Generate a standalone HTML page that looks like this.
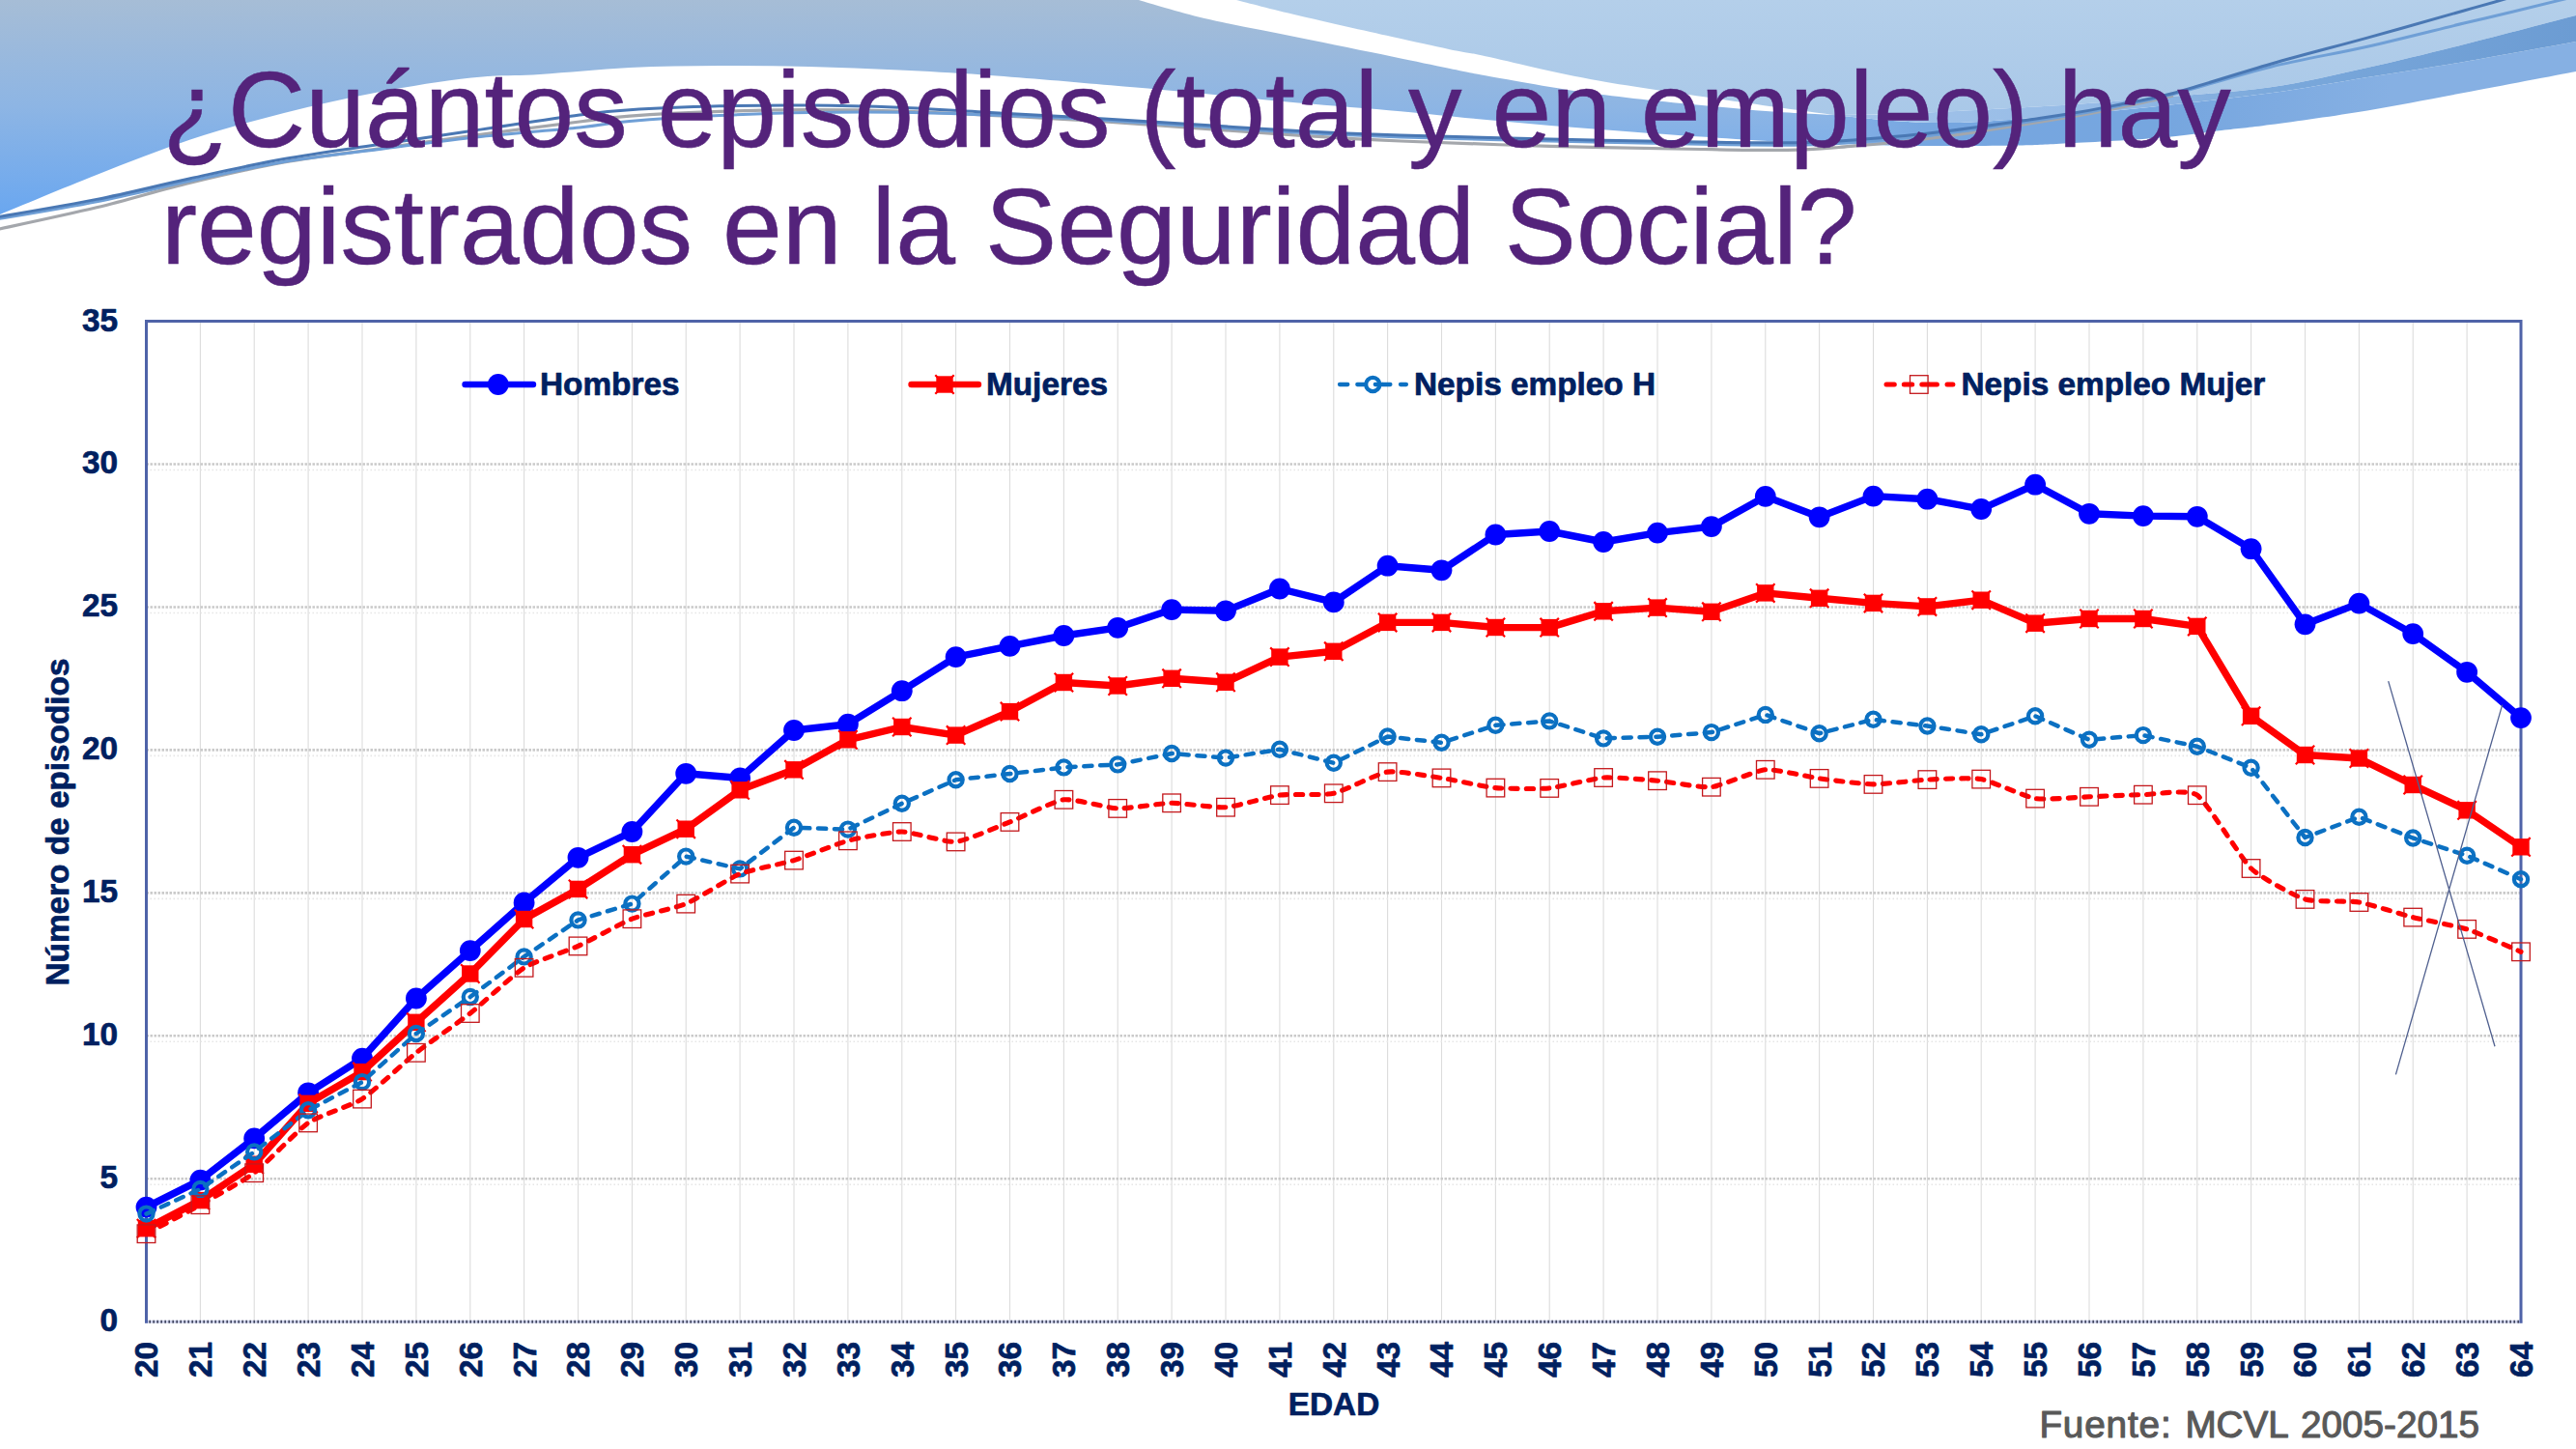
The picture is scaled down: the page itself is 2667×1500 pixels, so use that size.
<!DOCTYPE html>
<html lang="es"><head><meta charset="utf-8"><title>¿Cuántos episodios hay registrados en la Seguridad Social?</title>
<style>
html,body{margin:0;padding:0;background:#fff;}
body{width:2667px;height:1500px;overflow:hidden;position:relative;font-family:"Liberation Sans",sans-serif;}
svg{position:absolute;left:0;top:0;display:block;}
text{font-family:"Liberation Sans",sans-serif;}
.b{font-weight:bold;fill:#002060;font-size:33.35px;stroke:#002060;stroke-width:0.7px;stroke-linejoin:round;}
</style></head><body>
<svg width="2667" height="1500" viewBox="0 0 2667 1500">
<defs>
<linearGradient id="g1" x1="0" y1="0" x2="0" y2="1"><stop offset="0" stop-color="#a6bdd6"/><stop offset="0.5" stop-color="#8db5e4"/><stop offset="1" stop-color="#6aa7f0"/></linearGradient>
<linearGradient id="g2" x1="0" y1="0" x2="0" y2="1"><stop offset="0" stop-color="#b4cfea"/><stop offset="1" stop-color="#a9c8e8"/></linearGradient>
<g id="mh"><circle r="10.9" fill="#0000ff"/></g>
<g id="mm"><rect x="-8.7" y="-8.7" width="17.4" height="17.4" fill="#ff0000"/><path d="M-9.7,-9.7L9.7,9.7M-9.7,9.7L9.7,-9.7" stroke="#ff0000" stroke-width="2.2" /></g>
<g id="mnh"><circle r="7.1" fill="none" stroke="#0b70c2" stroke-width="4.2"/></g>
<g id="mnm"><rect x="-9.3" y="-9.3" width="18.6" height="18.6" fill="none" stroke="#c4181c" stroke-width="1.3"/></g>
</defs>
<g id="header">
<defs>
<linearGradient id="gB" gradientUnits="userSpaceOnUse" x1="1898" y1="0" x2="2667" y2="0"><stop offset="0" stop-color="#a3c4ea"/><stop offset="0.35" stop-color="#96bbe6"/><stop offset="0.6" stop-color="#7aa8db"/><stop offset="1" stop-color="#6c9cd3"/></linearGradient>
<linearGradient id="gA" gradientUnits="userSpaceOnUse" x1="1898" y1="0" x2="2667" y2="0"><stop offset="0" stop-color="#85b1e7"/><stop offset="0.12" stop-color="#76a6e0"/><stop offset="0.45" stop-color="#76a6df"/><stop offset="0.75" stop-color="#86b0e3"/><stop offset="1" stop-color="#86b0e3"/></linearGradient>
</defs>
<path d="M1280.0,0.0 C1290.7,2.7 1317.2,9.7 1344.0,16.0 C1370.8,22.3 1415.0,32.2 1441.0,38.0 C1467.0,43.8 1483.8,47.5 1500.0,50.9 C1516.2,54.3 1512.2,52.8 1538.0,58.2 C1563.8,63.6 1609.7,75.4 1655.0,83.5 C1700.3,91.6 1769.5,100.9 1810.0,106.8 C1850.5,112.7 1883.3,117.0 1898.0,119.0 L1950.0,118.5 C1959.2,118.1 1973.2,117.7 2005.0,116.0 C2036.8,114.3 2102.2,111.0 2141.0,108.4 C2179.8,105.9 2203.0,103.7 2238.0,100.7 C2273.0,97.7 2315.5,95.4 2351.0,90.3 C2386.5,85.2 2417.7,77.4 2451.0,70.0 C2484.3,62.6 2515.0,55.0 2551.0,46.0 C2587.0,37.0 2647.7,21.0 2667.0,16.0 L2667,0 Z" fill="url(#g2)"/>
<path d="M1898.0,119.0 C1908.3,120.0 1942.2,123.7 1960.0,125.0 C1977.8,126.3 1990.0,126.8 2005.0,127.0 C2020.0,127.2 2027.3,127.3 2050.0,126.0 C2072.7,124.7 2109.7,121.8 2141.0,119.0 C2172.3,116.2 2203.0,113.2 2238.0,109.4 C2273.0,105.6 2315.5,101.2 2351.0,96.3 C2386.5,91.4 2417.7,85.4 2451.0,80.0 C2484.3,74.6 2515.0,70.2 2551.0,64.0 C2587.0,57.8 2647.7,46.5 2667.0,43.0 L2667,74 L2667.0,74.0 C2647.7,77.7 2587.0,89.3 2551.0,96.0 C2515.0,102.7 2484.3,108.9 2451.0,114.4 C2417.7,119.9 2376.2,125.6 2351.0,129.0 C2325.8,132.4 2318.8,132.8 2300.0,135.0 C2281.2,137.2 2264.5,140.2 2238.0,142.4 C2211.5,144.6 2165.7,147.0 2141.0,148.3 C2116.3,149.7 2112.7,150.1 2090.0,150.5 C2067.3,150.9 2031.7,151.1 2005.0,151.0 C1978.3,150.9 1947.9,150.3 1930.0,149.9 C1912.1,149.5 1902.9,149.0 1897.5,148.8 L1897.5,119 Z" fill="url(#gA)"/>
<path d="M1898.0,119.0 C1906.7,118.9 1932.2,119.0 1950.0,118.5 C1967.8,118.0 1973.2,117.7 2005.0,116.0 C2036.8,114.3 2102.2,111.0 2141.0,108.4 C2179.8,105.9 2203.0,103.7 2238.0,100.7 C2273.0,97.7 2315.5,95.4 2351.0,90.3 C2386.5,85.2 2417.7,77.4 2451.0,70.0 C2484.3,62.6 2515.0,55.0 2551.0,46.0 C2587.0,37.0 2647.7,21.0 2667.0,16.0 L2667.0,43.0 C2647.7,46.5 2587.0,57.8 2551.0,64.0 C2515.0,70.2 2484.3,74.6 2451.0,80.0 C2417.7,85.4 2386.5,91.4 2351.0,96.3 C2315.5,101.2 2273.0,105.6 2238.0,109.4 C2203.0,113.2 2172.3,116.2 2141.0,119.0 C2109.7,121.8 2072.7,124.7 2050.0,126.0 C2027.3,127.3 2020.0,127.2 2005.0,127.0 C1990.0,126.8 1977.8,126.3 1960.0,125.0 C1942.2,123.7 1908.3,120.0 1898.0,119.0 Z" fill="url(#gB)"/>
<path d="M0,0 L1179,0 L1179.0,0.0 C1190.3,3.2 1219.5,12.5 1247.0,19.0 C1274.5,25.5 1311.7,32.2 1344.0,38.8 C1376.3,45.4 1415.0,53.2 1441.0,58.5 C1467.0,63.8 1483.8,67.5 1500.0,70.8 C1516.2,74.1 1512.2,73.8 1538.0,78.2 C1563.8,82.7 1609.7,91.6 1655.0,97.5 C1700.3,103.4 1769.5,109.9 1810.0,113.5 C1850.5,117.1 1883.3,118.1 1898.0,119.0 L1898.0,148.8 C1890.0,148.5 1872.8,148.2 1850.0,147.0 C1827.2,145.8 1788.8,143.4 1761.0,141.6 C1733.2,139.8 1709.0,137.9 1683.0,136.0 C1657.0,134.1 1630.8,132.2 1605.0,130.0 C1579.2,127.8 1553.8,125.5 1528.0,123.0 C1502.2,120.5 1480.7,118.0 1450.0,115.2 C1419.3,112.5 1377.8,109.5 1344.0,106.5 C1310.2,103.5 1279.3,100.0 1247.0,97.0 C1214.7,94.0 1187.0,91.5 1150.0,88.3 C1113.0,85.1 1061.5,80.6 1025.0,78.0 C988.5,75.4 962.2,74.1 931.0,72.6 C899.8,71.1 869.0,69.8 838.0,69.0 C807.0,68.2 776.0,67.8 745.0,68.0 C714.0,68.2 683.0,68.5 652.0,70.0 C621.0,71.5 586.3,75.2 559.0,77.0 C531.7,78.8 516.0,77.4 488.0,80.5 C460.0,83.6 423.3,89.4 391.0,95.5 C358.7,101.6 326.3,108.8 294.0,117.0 C261.7,125.2 229.3,133.8 197.0,144.5 C164.7,155.2 132.8,168.1 100.0,181.0 C67.2,193.9 16.7,215.2 0.0,222.0 Z" fill="url(#g1)"/>
<path d="M-10.0,239.0 C8.3,235.0 65.5,223.1 100.0,214.8 C134.5,206.5 164.7,196.9 197.0,189.1 C229.3,181.3 261.7,173.9 294.0,168.0 C326.3,162.2 358.7,158.6 391.0,154.1 C423.3,149.5 453.2,145.3 488.0,140.6 C522.8,135.9 572.7,129.4 600.0,126.0 C627.3,122.6 627.8,121.9 652.0,120.1 C676.2,118.4 714.0,116.5 745.0,115.4 C776.0,114.4 807.0,113.8 838.0,113.7 C869.0,113.7 899.8,114.1 931.0,115.0 C962.2,116.0 993.8,117.8 1025.0,119.4 C1056.2,120.9 1088.8,122.6 1118.0,124.3 C1147.2,126.1 1162.3,127.2 1200.0,129.8 C1237.7,132.5 1302.3,137.4 1344.0,140.1 C1385.7,142.8 1406.5,144.1 1450.0,146.0 C1493.5,147.9 1553.2,149.9 1605.0,151.3 C1656.8,152.7 1720.2,153.8 1761.0,154.5 C1801.8,155.2 1826.2,155.7 1850.0,155.4 C1873.8,155.1 1878.2,154.6 1904.0,152.5 C1929.8,150.3 1965.5,147.7 2005.0,142.5 C2044.5,137.3 2108.5,126.9 2141.0,121.5 C2173.5,116.1 2181.8,113.9 2200.0,110.2 C2218.2,106.4 2241.7,100.9 2250.0,99.0" fill="none" stroke="#a4a7ac" stroke-width="3.2"/>
<path d="M-10.0,228.0 C8.3,224.8 65.5,215.5 100.0,208.7 C134.5,201.9 164.7,194.2 197.0,187.3 C229.3,180.5 261.7,172.9 294.0,167.5 C326.3,162.0 358.7,158.9 391.0,154.7 C423.3,150.6 453.2,146.3 488.0,142.5 C522.8,138.7 572.7,134.8 600.0,132.0 C627.3,129.2 627.8,127.6 652.0,125.5 C676.2,123.4 714.0,121.0 745.0,119.5 C776.0,118.1 807.0,117.0 838.0,116.5 C869.0,116.0 899.8,115.9 931.0,116.3 C962.2,116.7 993.8,118.0 1025.0,119.1 C1056.2,120.2 1088.8,121.5 1118.0,123.1 C1147.2,124.6 1162.3,125.8 1200.0,128.2 C1237.7,130.5 1302.3,135.0 1344.0,137.3 C1385.7,139.6 1406.5,140.5 1450.0,141.9 C1493.5,143.4 1553.2,144.9 1605.0,146.1 C1656.8,147.4 1720.2,148.6 1761.0,149.3 C1801.8,150.0 1826.2,150.4 1850.0,150.2 C1873.8,150.1 1878.2,150.3 1904.0,148.5 C1929.8,146.7 1965.5,144.0 2005.0,139.3 C2044.5,134.5 2108.5,125.0 2141.0,119.8 C2173.5,114.7 2181.8,112.1 2200.0,108.4 C2218.2,104.7 2224.8,104.0 2250.0,97.5 C2275.2,91.0 2317.5,77.4 2351.0,69.2 C2384.5,61.0 2417.7,55.7 2451.0,48.2 C2484.3,40.7 2526.2,29.9 2551.0,24.0 C2575.8,18.1 2575.2,18.5 2600.0,12.5 C2624.8,6.5 2683.3,-7.9 2700.0,-12.0" fill="none" stroke="#6f9fd6" stroke-width="3.0"/>
<path d="M-10.0,226.0 C8.3,222.7 65.5,213.2 100.0,206.4 C134.5,199.5 164.7,191.6 197.0,184.7 C229.3,177.7 261.7,170.3 294.0,164.5 C326.3,158.7 358.7,154.6 391.0,149.8 C423.3,145.0 453.2,140.6 488.0,135.5 C522.8,130.4 572.7,122.6 600.0,119.0 C627.3,115.4 627.8,115.2 652.0,113.7 C676.2,112.1 714.0,110.6 745.0,109.8 C776.0,109.0 807.0,108.8 838.0,109.0 C869.0,109.2 899.8,110.0 931.0,111.2 C962.2,112.4 993.8,114.7 1025.0,116.4 C1056.2,118.1 1088.8,119.8 1118.0,121.5 C1147.2,123.2 1162.3,124.2 1200.0,126.5 C1237.7,128.8 1302.3,133.2 1344.0,135.5 C1385.7,137.8 1406.5,138.6 1450.0,140.0 C1493.5,141.4 1553.2,142.8 1605.0,144.0 C1656.8,145.2 1720.2,146.4 1761.0,147.0 C1801.8,147.6 1826.2,148.0 1850.0,147.8 C1873.8,147.6 1878.2,147.8 1904.0,146.0 C1929.8,144.2 1965.5,141.7 2005.0,137.0 C2044.5,132.3 2108.5,123.0 2141.0,118.0 C2173.5,113.0 2181.8,110.6 2200.0,107.0 C2218.2,103.4 2224.8,103.3 2250.0,96.5 C2275.2,89.7 2317.5,75.8 2351.0,66.2 C2384.5,56.6 2417.7,48.3 2451.0,39.1 C2484.3,29.9 2526.2,18.0 2551.0,11.0 C2575.8,4.0 2575.2,4.5 2600.0,-3.0 C2624.8,-10.5 2683.3,-28.8 2700.0,-34.0" fill="none" stroke="#4a78b4" stroke-width="3.0"/>
</g>
<g id="title" fill="#54237b" stroke="#54237b" stroke-width="0.5" font-size="111.3px">
<text x="168.3" y="152.4" textLength="2141.5" lengthAdjust="spacingAndGlyphs">¿Cuántos episodios (total y en empleo) hay</text>
<text x="167" y="272.7" textLength="1755.6" lengthAdjust="spacingAndGlyphs">registrados en la Seguridad Social?</text>
</g>
<g id="chart">
<path d="M207.4,332.6V1368.2M263.2,332.6V1368.2M319.1,332.6V1368.2M375.0,332.6V1368.2M430.9,332.6V1368.2M486.8,332.6V1368.2M542.6,332.6V1368.2M598.5,332.6V1368.2M654.4,332.6V1368.2M710.2,332.6V1368.2M766.1,332.6V1368.2M822.0,332.6V1368.2M877.9,332.6V1368.2M933.8,332.6V1368.2M989.6,332.6V1368.2M1045.5,332.6V1368.2M1101.4,332.6V1368.2M1157.2,332.6V1368.2M1213.1,332.6V1368.2M1269.0,332.6V1368.2M1324.9,332.6V1368.2M1380.8,332.6V1368.2M1436.6,332.6V1368.2M1492.5,332.6V1368.2M1548.4,332.6V1368.2M1604.2,332.6V1368.2M1660.1,332.6V1368.2M1716.0,332.6V1368.2M1771.9,332.6V1368.2M1827.8,332.6V1368.2M1883.6,332.6V1368.2M1939.5,332.6V1368.2M1995.4,332.6V1368.2M2051.2,332.6V1368.2M2107.1,332.6V1368.2M2163.0,332.6V1368.2M2218.9,332.6V1368.2M2274.8,332.6V1368.2M2330.6,332.6V1368.2M2386.5,332.6V1368.2M2442.4,332.6V1368.2M2498.2,332.6V1368.2M2554.1,332.6V1368.2" stroke="#dcdcdc" stroke-width="1.1" fill="none"/>
<path d="M151.5,1220.3H2610.0M151.5,1072.3H2610.0M151.5,924.4H2610.0M151.5,776.4H2610.0M151.5,628.5H2610.0M151.5,480.5H2610.0" stroke="#cacaca" stroke-width="2.6" stroke-dasharray="2.5 1.5" fill="none"/>
<path d="M151.5,1226.3H2610.0M151.5,1078.3H2610.0M151.5,930.4H2610.0M151.5,782.4H2610.0M151.5,634.5H2610.0M151.5,486.5H2610.0" stroke="#e6e6e6" stroke-width="1.6" stroke-dasharray="1.5 2.5" fill="none"/>
<path d="M150.0,1368.2H2611.5" stroke="#cdd1ea" stroke-width="3" fill="none"/>
<path d="M154.5,1368.2H2610.0" stroke="#20263f" stroke-width="3" stroke-dasharray="1.3 2.7" fill="none"/>
<path d="M151.5,1369.7V332.6H2610.0V1369.7" stroke="#4f63a8" stroke-width="3" fill="none" stroke-linejoin="miter"/>
<polyline points="151.5,1249.6 207.4,1221.6 263.2,1178.4 319.1,1131.3 375.0,1095.6 430.9,1033.5 486.8,984.1 542.6,934.4 598.5,887.8 654.4,861.0 710.2,800.8 766.1,805.4 822.0,756.0 877.9,749.7 933.8,715.2 989.6,680.1 1045.5,668.9 1101.4,658.0 1157.2,649.8 1213.1,631.1 1269.0,632.3 1324.9,609.5 1380.8,623.4 1436.6,585.7 1492.5,590.3 1548.4,553.5 1604.2,550.0 1660.1,561.0 1716.0,551.6 1771.9,545.1 1827.8,513.9 1883.6,535.3 1939.5,513.6 1995.4,516.7 2051.2,527.0 2107.1,501.7 2163.0,531.8 2218.9,534.1 2274.8,534.8 2330.6,568.2 2386.5,646.3 2442.4,624.6 2498.2,656.1 2554.1,695.8 2610.0,743.1" fill="none" stroke="#0000ff" stroke-width="7.4" stroke-linejoin="round" stroke-linecap="round"/>
<use href="#mh" x="151.5" y="1249.6"/><use href="#mh" x="207.4" y="1221.6"/><use href="#mh" x="263.2" y="1178.4"/><use href="#mh" x="319.1" y="1131.3"/><use href="#mh" x="375.0" y="1095.6"/><use href="#mh" x="430.9" y="1033.5"/><use href="#mh" x="486.8" y="984.1"/><use href="#mh" x="542.6" y="934.4"/><use href="#mh" x="598.5" y="887.8"/><use href="#mh" x="654.4" y="861.0"/><use href="#mh" x="710.2" y="800.8"/><use href="#mh" x="766.1" y="805.4"/><use href="#mh" x="822.0" y="756.0"/><use href="#mh" x="877.9" y="749.7"/><use href="#mh" x="933.8" y="715.2"/><use href="#mh" x="989.6" y="680.1"/><use href="#mh" x="1045.5" y="668.9"/><use href="#mh" x="1101.4" y="658.0"/><use href="#mh" x="1157.2" y="649.8"/><use href="#mh" x="1213.1" y="631.1"/><use href="#mh" x="1269.0" y="632.3"/><use href="#mh" x="1324.9" y="609.5"/><use href="#mh" x="1380.8" y="623.4"/><use href="#mh" x="1436.6" y="585.7"/><use href="#mh" x="1492.5" y="590.3"/><use href="#mh" x="1548.4" y="553.5"/><use href="#mh" x="1604.2" y="550.0"/><use href="#mh" x="1660.1" y="561.0"/><use href="#mh" x="1716.0" y="551.6"/><use href="#mh" x="1771.9" y="545.1"/><use href="#mh" x="1827.8" y="513.9"/><use href="#mh" x="1883.6" y="535.3"/><use href="#mh" x="1939.5" y="513.6"/><use href="#mh" x="1995.4" y="516.7"/><use href="#mh" x="2051.2" y="527.0"/><use href="#mh" x="2107.1" y="501.7"/><use href="#mh" x="2163.0" y="531.8"/><use href="#mh" x="2218.9" y="534.1"/><use href="#mh" x="2274.8" y="534.8"/><use href="#mh" x="2330.6" y="568.2"/><use href="#mh" x="2386.5" y="646.3"/><use href="#mh" x="2442.4" y="624.6"/><use href="#mh" x="2498.2" y="656.1"/><use href="#mh" x="2554.1" y="695.8"/><use href="#mh" x="2610.0" y="743.1"/>
<polyline points="151.5,1271.7 207.4,1242.6 263.2,1205.3 319.1,1142.3 375.0,1109.6 430.9,1058.3 486.8,1008.0 542.6,951.5 598.5,920.4 654.4,884.7 710.2,858.2 766.1,817.8 822.0,796.8 877.9,765.8 933.8,752.5 989.6,761.1 1045.5,736.6 1101.4,706.5 1157.2,710.0 1213.1,702.3 1269.0,706.3 1324.9,680.1 1380.8,674.3 1436.6,644.4 1492.5,644.4 1548.4,649.5 1604.2,649.6 1660.1,632.8 1716.0,629.1 1771.9,633.3 1827.8,613.9 1883.6,619.3 1939.5,624.4 1995.4,627.9 2051.2,621.2 2107.1,645.2 2163.0,640.5 2218.9,640.5 2274.8,648.4 2330.6,741.3 2386.5,781.5 2442.4,785.0 2498.2,812.5 2554.1,838.8 2610.0,876.8" fill="none" stroke="#ff0000" stroke-width="7.4" stroke-linejoin="round" stroke-linecap="round"/>
<use href="#mm" x="151.5" y="1271.7"/><use href="#mm" x="207.4" y="1242.6"/><use href="#mm" x="263.2" y="1205.3"/><use href="#mm" x="319.1" y="1142.3"/><use href="#mm" x="375.0" y="1109.6"/><use href="#mm" x="430.9" y="1058.3"/><use href="#mm" x="486.8" y="1008.0"/><use href="#mm" x="542.6" y="951.5"/><use href="#mm" x="598.5" y="920.4"/><use href="#mm" x="654.4" y="884.7"/><use href="#mm" x="710.2" y="858.2"/><use href="#mm" x="766.1" y="817.8"/><use href="#mm" x="822.0" y="796.8"/><use href="#mm" x="877.9" y="765.8"/><use href="#mm" x="933.8" y="752.5"/><use href="#mm" x="989.6" y="761.1"/><use href="#mm" x="1045.5" y="736.6"/><use href="#mm" x="1101.4" y="706.5"/><use href="#mm" x="1157.2" y="710.0"/><use href="#mm" x="1213.1" y="702.3"/><use href="#mm" x="1269.0" y="706.3"/><use href="#mm" x="1324.9" y="680.1"/><use href="#mm" x="1380.8" y="674.3"/><use href="#mm" x="1436.6" y="644.4"/><use href="#mm" x="1492.5" y="644.4"/><use href="#mm" x="1548.4" y="649.5"/><use href="#mm" x="1604.2" y="649.6"/><use href="#mm" x="1660.1" y="632.8"/><use href="#mm" x="1716.0" y="629.1"/><use href="#mm" x="1771.9" y="633.3"/><use href="#mm" x="1827.8" y="613.9"/><use href="#mm" x="1883.6" y="619.3"/><use href="#mm" x="1939.5" y="624.4"/><use href="#mm" x="1995.4" y="627.9"/><use href="#mm" x="2051.2" y="621.2"/><use href="#mm" x="2107.1" y="645.2"/><use href="#mm" x="2163.0" y="640.5"/><use href="#mm" x="2218.9" y="640.5"/><use href="#mm" x="2274.8" y="648.4"/><use href="#mm" x="2330.6" y="741.3"/><use href="#mm" x="2386.5" y="781.5"/><use href="#mm" x="2442.4" y="785.0"/><use href="#mm" x="2498.2" y="812.5"/><use href="#mm" x="2554.1" y="838.8"/><use href="#mm" x="2610.0" y="876.8"/>
<polyline points="151.5,1256.6 207.4,1230.9 263.2,1192.4 319.1,1149.3 375.0,1120.1 430.9,1070.0 486.8,1032.0 542.6,990.4 598.5,952.4 654.4,935.6 710.2,886.6 766.1,899.4 822.0,856.8 877.9,858.6 933.8,831.8 989.6,807.3 1045.5,801.0 1101.4,794.4 1157.2,791.4 1213.1,780.0 1269.0,784.6 1324.9,775.8 1380.8,789.8 1436.6,762.5 1492.5,768.8 1548.4,750.8 1604.2,746.4 1660.1,764.4 1716.0,762.7 1771.9,758.1 1827.8,739.9 1883.6,759.2 1939.5,744.8 1995.4,751.5 2051.2,760.2 2107.1,741.3 2163.0,765.8 2218.9,761.1 2274.8,772.8 2330.6,794.7 2386.5,867.0 2442.4,845.8 2498.2,867.5 2554.1,885.7 2610.0,910.2" fill="none" stroke="#0b70c2" stroke-width="4.5" stroke-dasharray="8.2 8.7" stroke-linecap="round" stroke-linejoin="round"/>
<use href="#mnh" x="151.5" y="1256.6"/><use href="#mnh" x="207.4" y="1230.9"/><use href="#mnh" x="263.2" y="1192.4"/><use href="#mnh" x="319.1" y="1149.3"/><use href="#mnh" x="375.0" y="1120.1"/><use href="#mnh" x="430.9" y="1070.0"/><use href="#mnh" x="486.8" y="1032.0"/><use href="#mnh" x="542.6" y="990.4"/><use href="#mnh" x="598.5" y="952.4"/><use href="#mnh" x="654.4" y="935.6"/><use href="#mnh" x="710.2" y="886.6"/><use href="#mnh" x="766.1" y="899.4"/><use href="#mnh" x="822.0" y="856.8"/><use href="#mnh" x="877.9" y="858.6"/><use href="#mnh" x="933.8" y="831.8"/><use href="#mnh" x="989.6" y="807.3"/><use href="#mnh" x="1045.5" y="801.0"/><use href="#mnh" x="1101.4" y="794.4"/><use href="#mnh" x="1157.2" y="791.4"/><use href="#mnh" x="1213.1" y="780.0"/><use href="#mnh" x="1269.0" y="784.6"/><use href="#mnh" x="1324.9" y="775.8"/><use href="#mnh" x="1380.8" y="789.8"/><use href="#mnh" x="1436.6" y="762.5"/><use href="#mnh" x="1492.5" y="768.8"/><use href="#mnh" x="1548.4" y="750.8"/><use href="#mnh" x="1604.2" y="746.4"/><use href="#mnh" x="1660.1" y="764.4"/><use href="#mnh" x="1716.0" y="762.7"/><use href="#mnh" x="1771.9" y="758.1"/><use href="#mnh" x="1827.8" y="739.9"/><use href="#mnh" x="1883.6" y="759.2"/><use href="#mnh" x="1939.5" y="744.8"/><use href="#mnh" x="1995.4" y="751.5"/><use href="#mnh" x="2051.2" y="760.2"/><use href="#mnh" x="2107.1" y="741.3"/><use href="#mnh" x="2163.0" y="765.8"/><use href="#mnh" x="2218.9" y="761.1"/><use href="#mnh" x="2274.8" y="772.8"/><use href="#mnh" x="2330.6" y="794.7"/><use href="#mnh" x="2386.5" y="867.0"/><use href="#mnh" x="2442.4" y="845.8"/><use href="#mnh" x="2498.2" y="867.5"/><use href="#mnh" x="2554.1" y="885.7"/><use href="#mnh" x="2610.0" y="910.2"/>
<path d="M151.5,1277.2 C156.5,1274.5 197.3,1252.9 207.4,1247.2 C217.4,1241.5 253.2,1221.8 263.2,1214.2 C273.3,1206.6 309.1,1169.3 319.1,1162.4 C329.2,1155.5 364.9,1144.1 375.0,1137.6 C385.1,1131.1 420.8,1097.8 430.9,1089.8 C440.9,1081.8 476.7,1056.9 486.8,1049.0 C496.8,1041.1 532.6,1008.1 542.6,1001.8 C552.7,995.5 588.4,984.0 598.5,979.4 C608.6,974.8 644.3,955.1 654.4,951.2 C664.4,947.3 700.2,939.8 710.2,935.6 C720.3,931.4 756.1,908.6 766.1,904.6 C776.2,900.6 811.9,893.7 822.0,890.6 C832.1,887.5 867.8,873.0 877.9,870.3 C887.9,867.6 923.7,860.9 933.8,861.0 C943.8,861.1 979.6,872.3 989.6,871.4 C999.7,870.5 1035.4,854.8 1045.5,850.9 C1055.6,847.0 1091.3,829.1 1101.4,827.8 C1111.4,826.5 1147.2,836.6 1157.2,836.9 C1167.3,837.2 1203.1,831.4 1213.1,831.3 C1223.2,831.2 1258.9,836.4 1269.0,835.7 C1279.1,835.0 1314.8,824.4 1324.9,823.1 C1334.9,821.8 1370.7,823.5 1380.8,821.3 C1390.8,819.1 1426.6,800.5 1436.6,799.1 C1446.7,797.7 1482.4,803.9 1492.5,805.4 C1502.6,806.9 1538.3,814.7 1548.4,815.6 C1558.4,816.5 1594.2,816.9 1604.2,815.9 C1614.3,814.9 1650.1,805.7 1660.1,805.0 C1670.2,804.3 1705.9,807.3 1716.0,808.2 C1726.1,809.1 1761.8,815.7 1771.9,814.7 C1781.9,813.7 1817.7,797.6 1827.8,796.8 C1837.8,796.0 1873.6,804.5 1883.6,805.9 C1893.7,807.3 1929.4,811.8 1939.5,811.9 C1949.6,812.0 1985.3,807.6 1995.4,807.1 C2005.4,806.6 2041.2,804.8 2051.2,806.6 C2061.3,808.4 2097.1,825.0 2107.1,826.6 C2117.2,828.2 2152.9,825.2 2163.0,824.8 C2173.1,824.4 2208.8,822.8 2218.9,822.7 C2228.9,822.6 2264.7,816.3 2274.8,823.2 C2284.8,830.1 2320.6,889.3 2330.6,899.0 C2340.7,908.7 2376.4,927.8 2386.5,930.9 C2396.6,934.0 2432.3,932.3 2442.4,934.0 C2452.4,935.7 2488.2,947.1 2498.2,949.6 C2508.3,952.1 2544.1,958.7 2554.1,961.9 C2564.2,965.1 2605.0,983.2 2610.0,985.3" fill="none" stroke="#ff0000" stroke-width="5.1" stroke-dasharray="7.2 9.1" stroke-linecap="round" stroke-linejoin="round"/>
<use href="#mnm" x="151.5" y="1277.2"/><use href="#mnm" x="207.4" y="1247.2"/><use href="#mnm" x="263.2" y="1214.2"/><use href="#mnm" x="319.1" y="1162.4"/><use href="#mnm" x="375.0" y="1137.6"/><use href="#mnm" x="430.9" y="1089.8"/><use href="#mnm" x="486.8" y="1049.0"/><use href="#mnm" x="542.6" y="1001.8"/><use href="#mnm" x="598.5" y="979.4"/><use href="#mnm" x="654.4" y="951.2"/><use href="#mnm" x="710.2" y="935.6"/><use href="#mnm" x="766.1" y="904.6"/><use href="#mnm" x="822.0" y="890.6"/><use href="#mnm" x="877.9" y="870.3"/><use href="#mnm" x="933.8" y="861.0"/><use href="#mnm" x="989.6" y="871.4"/><use href="#mnm" x="1045.5" y="850.9"/><use href="#mnm" x="1101.4" y="827.8"/><use href="#mnm" x="1157.2" y="836.9"/><use href="#mnm" x="1213.1" y="831.3"/><use href="#mnm" x="1269.0" y="835.7"/><use href="#mnm" x="1324.9" y="823.1"/><use href="#mnm" x="1380.8" y="821.3"/><use href="#mnm" x="1436.6" y="799.1"/><use href="#mnm" x="1492.5" y="805.4"/><use href="#mnm" x="1548.4" y="815.6"/><use href="#mnm" x="1604.2" y="815.9"/><use href="#mnm" x="1660.1" y="805.0"/><use href="#mnm" x="1716.0" y="808.2"/><use href="#mnm" x="1771.9" y="814.7"/><use href="#mnm" x="1827.8" y="796.8"/><use href="#mnm" x="1883.6" y="805.9"/><use href="#mnm" x="1939.5" y="811.9"/><use href="#mnm" x="1995.4" y="807.1"/><use href="#mnm" x="2051.2" y="806.6"/><use href="#mnm" x="2107.1" y="826.6"/><use href="#mnm" x="2163.0" y="824.8"/><use href="#mnm" x="2218.9" y="822.7"/><use href="#mnm" x="2274.8" y="823.2"/><use href="#mnm" x="2330.6" y="899.0"/><use href="#mnm" x="2386.5" y="930.9"/><use href="#mnm" x="2442.4" y="934.0"/><use href="#mnm" x="2498.2" y="949.6"/><use href="#mnm" x="2554.1" y="961.9"/><use href="#mnm" x="2610.0" y="985.3"/>
<path d="M2472.7,705.1L2583,1083.2M2590.7,729.6L2480.4,1112.4" stroke="#50608f" stroke-width="1.3" fill="none"/>
<path d="M481.5,398H552" stroke="#0000ff" stroke-width="6.4" stroke-linecap="round"/><use href="#mh" x="515.8" y="398"/>
<path d="M943.5,398H1013" stroke="#ff0000" stroke-width="6.4" stroke-linecap="round"/><use href="#mm" x="978" y="398"/>
<path d="M1387.0,398H1395.3M1405.3,398H1413.7M1423.8,398H1431.3M1431.8,398H1439.4M1450.0,398H1455.9" stroke="#0b70c2" stroke-width="4.3" stroke-linecap="round" fill="none"/><use href="#mnh" x="1421.3" y="398"/>
<path d="M1953.0,398H1961.3M1971.3,398H1979.7M1989.8,398H1997.3M1997.8,398H2005.4M2016.0,398H2021.9" stroke="#ff0000" stroke-width="5.0" stroke-linecap="round" fill="none"/><use href="#mnm" x="1986.8" y="398"/>
<text class="b" x="559" y="408.6">Hombres</text>
<text class="b" x="1021" y="408.6">Mujeres</text>
<text class="b" x="1464" y="408.6">Nepis empleo H</text>
<text class="b" x="2030.5" y="408.6">Nepis empleo Mujer</text>
<text class="b" x="122" y="1378.1" text-anchor="end">0</text>
<text class="b" x="122" y="1230.2" text-anchor="end">5</text>
<text class="b" x="122" y="1082.2" text-anchor="end">10</text>
<text class="b" x="122" y="934.3" text-anchor="end">15</text>
<text class="b" x="122" y="786.3" text-anchor="end">20</text>
<text class="b" x="122" y="638.4" text-anchor="end">25</text>
<text class="b" x="122" y="490.4" text-anchor="end">30</text>
<text class="b" x="122" y="342.5" text-anchor="end">35</text>
<text class="b" transform="translate(163.4,1426) rotate(-90)">20</text>
<text class="b" transform="translate(219.3,1426) rotate(-90)">21</text>
<text class="b" transform="translate(275.1,1426) rotate(-90)">22</text>
<text class="b" transform="translate(331.0,1426) rotate(-90)">23</text>
<text class="b" transform="translate(386.9,1426) rotate(-90)">24</text>
<text class="b" transform="translate(442.8,1426) rotate(-90)">25</text>
<text class="b" transform="translate(498.6,1426) rotate(-90)">26</text>
<text class="b" transform="translate(554.5,1426) rotate(-90)">27</text>
<text class="b" transform="translate(610.4,1426) rotate(-90)">28</text>
<text class="b" transform="translate(666.3,1426) rotate(-90)">29</text>
<text class="b" transform="translate(722.1,1426) rotate(-90)">30</text>
<text class="b" transform="translate(778.0,1426) rotate(-90)">31</text>
<text class="b" transform="translate(833.9,1426) rotate(-90)">32</text>
<text class="b" transform="translate(889.8,1426) rotate(-90)">33</text>
<text class="b" transform="translate(945.6,1426) rotate(-90)">34</text>
<text class="b" transform="translate(1001.5,1426) rotate(-90)">35</text>
<text class="b" transform="translate(1057.4,1426) rotate(-90)">36</text>
<text class="b" transform="translate(1113.3,1426) rotate(-90)">37</text>
<text class="b" transform="translate(1169.2,1426) rotate(-90)">38</text>
<text class="b" transform="translate(1225.0,1426) rotate(-90)">39</text>
<text class="b" transform="translate(1280.9,1426) rotate(-90)">40</text>
<text class="b" transform="translate(1336.8,1426) rotate(-90)">41</text>
<text class="b" transform="translate(1392.7,1426) rotate(-90)">42</text>
<text class="b" transform="translate(1448.5,1426) rotate(-90)">43</text>
<text class="b" transform="translate(1504.4,1426) rotate(-90)">44</text>
<text class="b" transform="translate(1560.3,1426) rotate(-90)">45</text>
<text class="b" transform="translate(1616.2,1426) rotate(-90)">46</text>
<text class="b" transform="translate(1672.0,1426) rotate(-90)">47</text>
<text class="b" transform="translate(1727.9,1426) rotate(-90)">48</text>
<text class="b" transform="translate(1783.8,1426) rotate(-90)">49</text>
<text class="b" transform="translate(1839.7,1426) rotate(-90)">50</text>
<text class="b" transform="translate(1895.5,1426) rotate(-90)">51</text>
<text class="b" transform="translate(1951.4,1426) rotate(-90)">52</text>
<text class="b" transform="translate(2007.3,1426) rotate(-90)">53</text>
<text class="b" transform="translate(2063.2,1426) rotate(-90)">54</text>
<text class="b" transform="translate(2119.0,1426) rotate(-90)">55</text>
<text class="b" transform="translate(2174.9,1426) rotate(-90)">56</text>
<text class="b" transform="translate(2230.8,1426) rotate(-90)">57</text>
<text class="b" transform="translate(2286.7,1426) rotate(-90)">58</text>
<text class="b" transform="translate(2342.5,1426) rotate(-90)">59</text>
<text class="b" transform="translate(2398.4,1426) rotate(-90)">60</text>
<text class="b" transform="translate(2454.3,1426) rotate(-90)">61</text>
<text class="b" transform="translate(2510.2,1426) rotate(-90)">62</text>
<text class="b" transform="translate(2566.0,1426) rotate(-90)">63</text>
<text class="b" transform="translate(2621.9,1426) rotate(-90)">64</text>
<text class="b" x="1381" y="1465.3" text-anchor="middle">EDAD</text>
<text class="b" transform="translate(70.8,851) rotate(-90)" text-anchor="middle">Número de episodios</text>
</g>
<text y="1487.7" font-size="38.7px" fill="#595959" stroke="#595959" stroke-width="1.1" stroke-linejoin="round"><tspan x="2111.4" letter-spacing="0.85">Fuente:</tspan> <tspan x="2262.4">MCVL</tspan> <tspan x="2382.0">2005-2015</tspan></text>
</svg></body></html>
